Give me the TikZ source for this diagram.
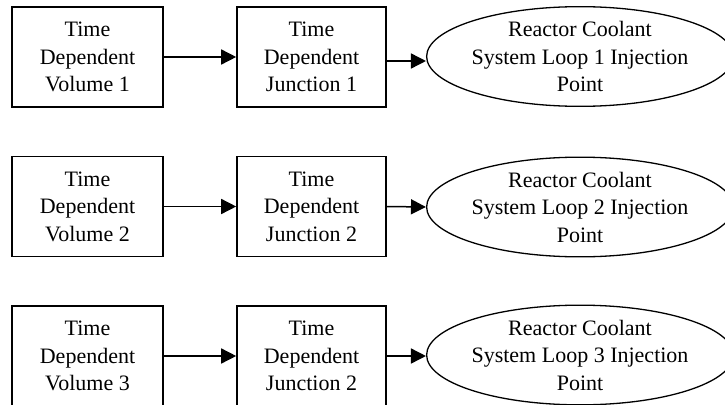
\documentclass[tikz,border=0pt]{standalone}
\usepackage{fontspec}
\setmainfont{Liberation Serif}
\usetikzlibrary{arrows.meta,shapes.geometric}
\begin{document}
\begin{tikzpicture}[x=1pt,y=1pt,
  boxA/.style={draw,line width=1.6pt,minimum width=151pt,minimum height=100pt,inner sep=0pt,align=center,font=\fontsize{22pt}{27.5pt}\selectfont},
  boxB/.style={draw,line width=1.6pt,minimum width=149pt,minimum height=100pt,inner sep=0pt,align=center,font=\fontsize{22pt}{27.5pt}\selectfont},
  oval/.style={draw,ellipse,line width=1.3pt,minimum width=288pt,minimum height=99pt,inner sep=0pt,align=center,font=\fontsize{22pt}{27.5pt}\selectfont},
  conn/.style={line width=1.5pt,-{Triangle[length=15pt,width=15pt]}}]
\useasboundingbox (0,0) rectangle (725,-404);
% row 1
\node[boxA] (v1) at (87.5,-57) {Time\\Dependent\\Volume 1};
\node[boxB] (j1) at (311.5,-57) {Time\\Dependent\\Junction 1};
\node[oval] (p1) at (580,-56.5) {Reactor Coolant\\System Loop 1 Injection\\Point};
% row 2
\node[boxA] (v2) at (87.5,-206.5) {Time\\Dependent\\Volume 2};
\node[boxB] (j2) at (311.5,-206.5) {Time\\Dependent\\Junction 2};
\node[oval] (p2) at (580,-207) {Reactor Coolant\\System Loop 2 Injection\\Point};
% row 3
\node[boxA] (v3) at (87.5,-356) {Time\\Dependent\\Volume 3};
\node[boxB] (j3) at (311.5,-356) {Time\\Dependent\\Junction 2};
\node[oval] (p3) at (580,-355) {Reactor Coolant\\System Loop 3 Injection\\Point};
% connectors
\draw[conn] (v1.east) -- (j1.west);
\draw[conn] ([yshift=-4pt]j1.east) -- ([yshift=-4pt]j1.east -| p1.west);
\draw[conn] (v2.east) -- (j2.west);
\draw[conn] (j2.east) -- (p2.west);
\draw[conn] (v3.east) -- (j3.west);
\draw[conn] (j3.east) -- (j3.east -| p3.west);
\end{tikzpicture}
\end{document}
